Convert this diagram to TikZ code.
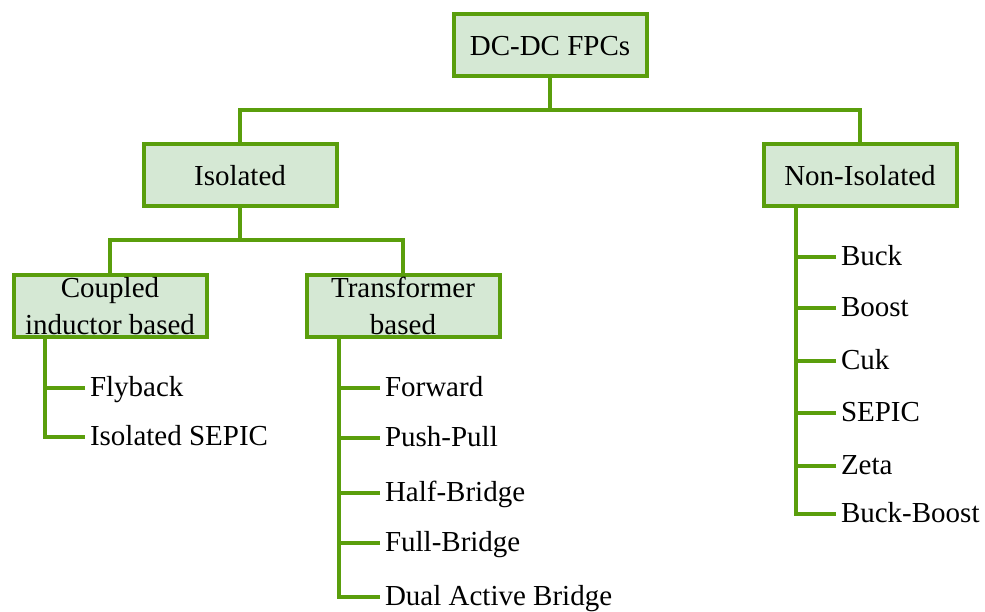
\documentclass[tikz,border=0pt]{standalone}
\usepackage{fontspec}
\setmainfont{Liberation Serif}
\begin{document}
\definecolor{treegreen}{RGB}{90,158,12}
\definecolor{boxfill}{RGB}{213,232,212}
\begin{tikzpicture}[x=1pt,y=-1pt,
  catbox/.style={draw=treegreen, fill=boxfill, line width=4pt, inner sep=0pt,
    minimum width=193pt, minimum height=62pt, align=center,
    font=\fontsize{29}{36.5}\selectfont},
  leaf/.style={anchor=west, inner xsep=5pt, inner ysep=0pt, outer sep=0pt,
    text height=20pt, text depth=4pt, font=\fontsize{29}{36.5}\selectfont},
  link/.style={draw=treegreen, line width=4pt}]
\useasboundingbox (0,0) rectangle (985,611);

% category boxes
\node[catbox, text height=20pt, text depth=0pt] (root) at (550,45) {DC-DC FPCs};
\node[catbox, text height=20pt, text depth=0pt] (iso) at (240,175) {Isolated};
\node[catbox, text height=20pt, text depth=0pt] (noniso) at (860,175) {Non-Isolated};
\node[catbox] (cib) at (110,306) {Coupled\\inductor based};
\node[catbox] (tfb) at (403,306) {Transformer\\based};

% top-level branching
\draw[link] (root.south) -- ++(0,32);
\draw[link] (iso.north) |- (root.south |- 0,110) -| (noniso.north);
\draw[link] (cib.north) |- (iso.south |- 0,240) -| (tfb.north);
\draw[link] (iso.south) -- ++(0,32);

% coupled inductor based leaves
\node[leaf] (fly) at (85,388) {Flyback};
\node[leaf] (isep) at (85,437) {Isolated SEPIC};
\coordinate (cibT) at ([xshift=33pt]cib.south west);
\draw[link] (cibT) |- (isep.west);
\draw[link] (fly.west) -- (fly.west -| cibT);

% transformer based leaves
\node[leaf] (fwd) at (380,388) {Forward};
\node[leaf] (pp) at (380,438) {Push-Pull};
\node[leaf] (hb) at (380,493) {Half-Bridge};
\node[leaf] (fb) at (380,543) {Full-Bridge};
\node[leaf] (dab) at (380,597) {Dual Active Bridge};
\coordinate (tfbT) at ([xshift=34pt]tfb.south west);
\draw[link] (tfbT) |- (dab.west);
\foreach \n in {fwd,pp,hb,fb}
  \draw[link] (\n.west) -- (\n.west -| tfbT);

% non-isolated leaves
\node[leaf] (buck) at (836,257) {Buck};
\node[leaf] (boost) at (836,308) {Boost};
\node[leaf] (cuk) at (836,361) {Cuk};
\node[leaf] (sepic) at (836,413) {SEPIC};
\node[leaf] (zeta) at (836,466) {Zeta};
\node[leaf] (bb) at (836,514) {Buck-Boost};
\coordinate (nisT) at ([xshift=34pt]noniso.south west);
\draw[link] (nisT) |- (bb.west);
\foreach \n in {buck,boost,cuk,sepic,zeta}
  \draw[link] (\n.west) -- (\n.west -| nisT);
\end{tikzpicture}
\end{document}
